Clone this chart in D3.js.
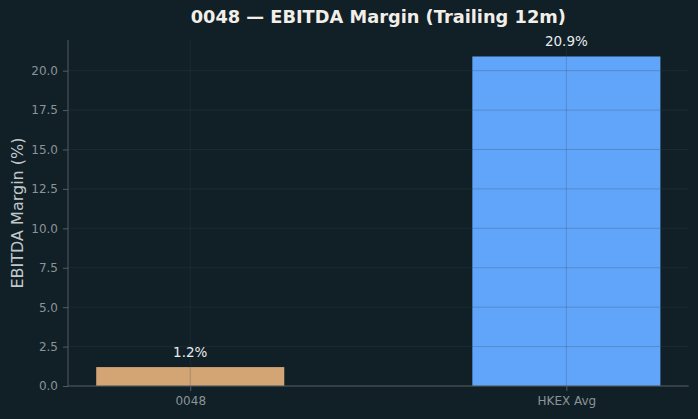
<!DOCTYPE html>
<html>
<head>
<meta charset="utf-8">
<script src="https://cdn.jsdelivr.net/npm/d3@7"></script>
<style>
  html, body { margin: 0; padding: 0; background: #111f26; }
  svg { display: block; }
  text { font-family: "DejaVu Sans", sans-serif; }
</style>
</head>
<body>
<script>
const categories = ["0048", "HKEX Avg"];
const values = [1.2, 20.9];
const barColors = ["#d4a574", "#60a5fa"];
const valueLabels = ["1.2%", "20.9%"];
const yTicks = [0, 2.5, 5, 7.5, 10, 12.5, 15, 17.5, 20];
const title = "0048 — EBITDA Margin (Trailing 12m)";
const yLabel = "EBITDA Margin (%)";

const W = 698, H = 419;
const m = { left: 68, right: 698 - 688.6, top: 40, bottom: 419 - 386 };

const svg = d3.select("body").append("svg").attr("width", W).attr("height", H);
svg.append("rect").attr("width", W).attr("height", H).attr("fill", "#111f26");

const x = d3.scaleLinear().domain([-0.325, categories.length - 1 + 0.325]).range([m.left, W - m.right]);
const barW = x(0.5) - x(0);
const yMax = d3.max(values) * 1.05;
const y = d3.scaleLinear().domain([0, yMax]).range([H - m.bottom, m.top]);

// bars
svg.append("g").selectAll("rect").data(values).join("rect")
  .attr("x", (d, i) => x(i) - barW / 2)
  .attr("width", barW)
  .attr("y", d => y(d))
  .attr("height", d => y(0) - y(d))
  .attr("fill", (d, i) => barColors[i]);

// grid (drawn above bars)
const grid = svg.append("g").attr("stroke", "#3a4a55").attr("stroke-opacity", 0.35).attr("stroke-width", 0.8);
grid.selectAll("line.h").data(yTicks).join("line").attr("class", "h")
  .attr("x1", m.left).attr("x2", W - m.right)
  .attr("y1", d => y(d)).attr("y2", d => y(d));
grid.selectAll("line.v").data(categories).join("line").attr("class", "v")
  .attr("x1", (d, i) => x(i)).attr("x2", (d, i) => x(i))
  .attr("y1", m.top).attr("y2", H - m.bottom);

// axes
const yAxis = d3.axisLeft(y).tickValues(yTicks).tickFormat(d3.format(".1f")).tickSize(5).tickPadding(5);
const gy = svg.append("g").attr("transform", `translate(${m.left},0)`).call(yAxis);
const xAxis = d3.axisBottom(x).tickValues(categories.map((d, i) => i)).tickFormat(i => categories[i]).tickSize(5).tickPadding(5);
const gx = svg.append("g").attr("transform", `translate(0,${H - m.bottom})`).call(xAxis);

[gx, gy].forEach(g => {
  g.select(".domain").attr("stroke", "#555c60").attr("stroke-width", 1);
  g.selectAll(".tick line").attr("stroke", "#555c60");
  g.selectAll(".tick text").attr("fill", "#8a9499").attr("font-size", "12px").attr("font-family", "DejaVu Sans");
});
gy.select(".domain").attr("d", `M0,${m.top}V${H - m.bottom}`);
gx.select(".domain").attr("d", `M${m.left},0H${W - m.right}`);

// value labels
svg.append("g").selectAll("text").data(values).join("text")
  .attr("x", (d, i) => x(i))
  .attr("y", d => y(d) - 10)
  .attr("text-anchor", "middle")
  .attr("fill", "#e6ebee")
  .attr("font-size", "13.5px")
  .text((d, i) => valueLabels[i]);

// title
svg.append("text")
  .attr("x", (m.left + W - m.right) / 2)
  .attr("y", 23)
  .attr("text-anchor", "middle")
  .attr("fill", "#f2efe9")
  .attr("font-weight", "bold")
  .attr("font-size", "17.8px")
  .text(title);

// y label
svg.append("text")
  .attr("transform", `translate(23, ${(m.top + H - m.bottom) / 2}) rotate(-90)`)
  .attr("text-anchor", "middle")
  .attr("fill", "#c2c9cd")
  .attr("font-size", "16px")
  .text(yLabel);
</script>
</body>
</html>
